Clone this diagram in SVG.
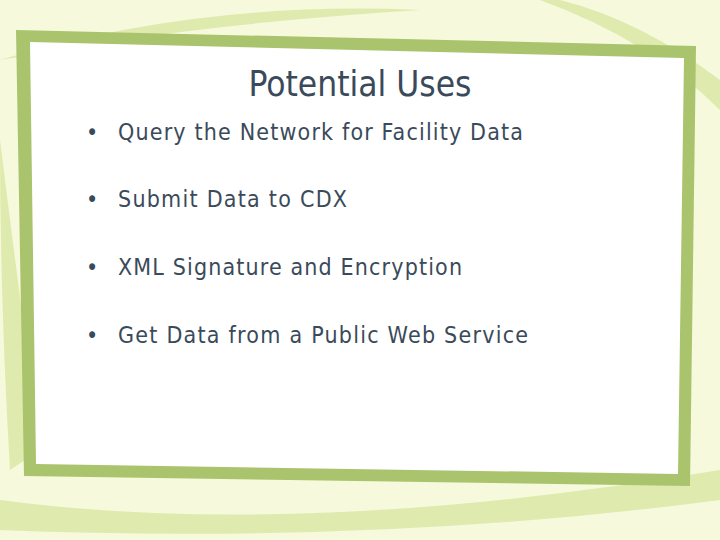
<svg xmlns="http://www.w3.org/2000/svg" width="720" height="540" viewBox="0 0 720 540">
<style>
.b{font-family:"DejaVu Sans Condensed","DejaVu Sans",sans-serif;font-size:23px;fill:#3a4a5a}
.sw{fill:#d4e49a;opacity:0.7}
</style>
<rect width="720" height="540" fill="#f6f9dc"/>
<path class="sw" d="M0,60 Q200,0 420,10 Q260,20 120,40 Z"/>
<path class="sw" d="M560,0 Q640,20 720,80 L720,110 Q650,40 540,0 Z"/>
<path class="sw" d="M0,500 Q300,540 720,470 L720,500 Q380,545 0,530 Z"/>
<path class="sw" d="M0,140 Q20,300 40,450 L10,470 Q0,300 0,140 Z"/>
<g id="panel">
<path d="M16,30 L696,46 L690,486 L24,476 Z" fill="#a9c46c"/>
<path d="M30,42 L684,58 L678,474 L36,464 Z" fill="#ffffff"/>
</g>
<text x="360" y="96" text-anchor="middle" font-family="DejaVu Sans Condensed,DejaVu Sans,sans-serif" font-size="35" fill="#3a4a5a">Potential Uses</text>
<g class="b">
<text x="86" y="140">•</text><text x="118" y="140" textLength="405">Query the Network for Facility Data</text>
<text x="86" y="207">•</text><text x="118" y="207" textLength="229">Submit Data to CDX</text>
<text x="86" y="275">•</text><text x="118" y="275" textLength="344">XML Signature and Encryption</text>
<text x="86" y="343">•</text><text x="118" y="343" textLength="410">Get Data from a Public Web Service</text>
</g>
</svg>
